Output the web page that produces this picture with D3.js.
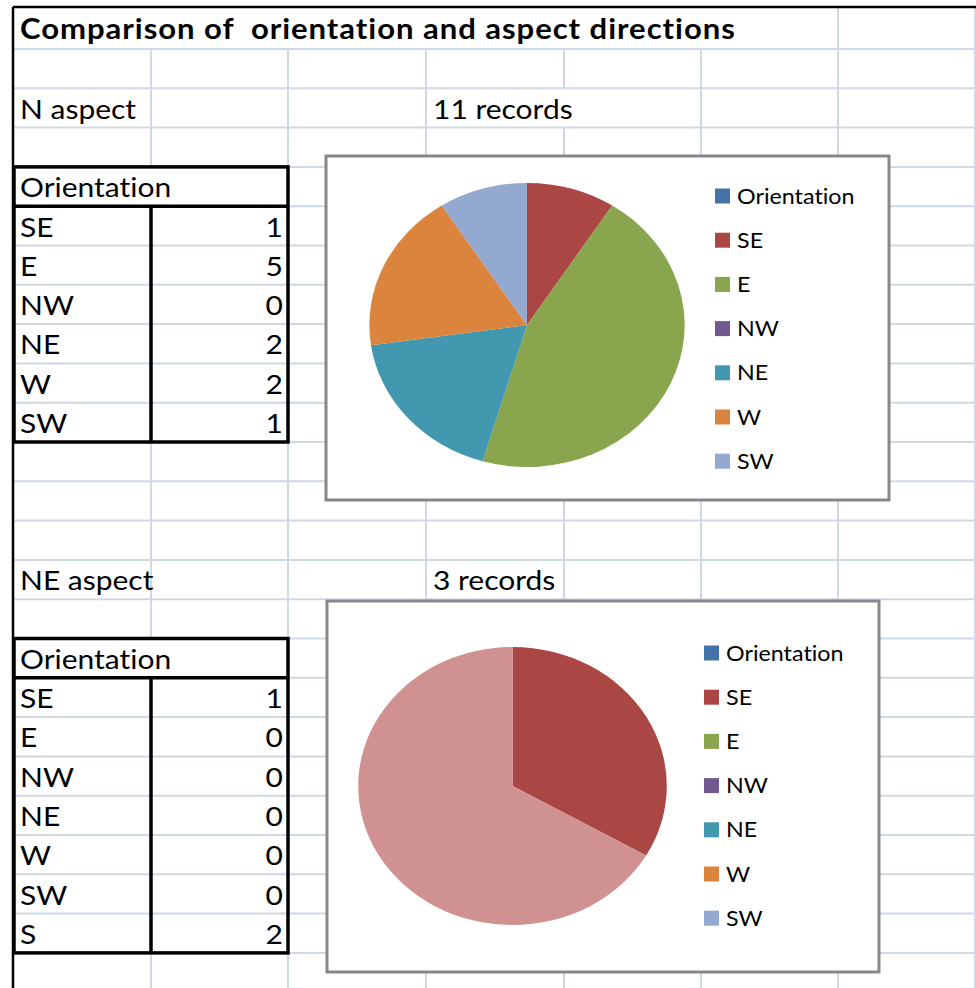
<!DOCTYPE html>
<html>
<head>
<meta charset="utf-8">
<script src="https://cdn.jsdelivr.net/npm/d3@7"></script>
<style>
  html, body { margin: 0; padding: 0; background: #fff; }
  svg { display: block; }
  text { font-family: Lato, "Open Sans", sans-serif; fill: #000; font-variant-ligatures: none; white-space: pre; }
</style>
</head>
<body>
<svg width="976" height="988"></svg>
<script>
// sheet contents
const title = 'Comparison of  orientation and aspect directions';
const aspects = ['N aspect', 'NE aspect'];
const records = ['11 records', '3 records'];
const headerLabel = 'Orientation';

const orient1 = ['SE', 'E', 'NW', 'NE', 'W', 'SW'];
const counts1 = [1, 5, 0, 2, 2, 1];

const orient2 = ['SE', 'E', 'NW', 'NE', 'W', 'SW', 'S'];
const counts2 = [1, 0, 0, 0, 0, 0, 2];

const legendLabels = ['Orientation', 'SE', 'E', 'NW', 'NE', 'W', 'SW'];
const seriesColors = ['#4572A7', '#AA4643', '#89A54E', '#71588F', '#4198AF', '#DB843D', '#93A9CF', '#D09291'];

const svg = d3.select('svg');
const W = 976, H = 988;
const SX = 1.11; // screenshot is stretched horizontally
const gridColor = '#D0D7E5';

const colX = [13, 151, 288, 426, 564, 701, 838, 975];
const rowH = 39.3;
const rowY = (k) => (k < 0 ? 7 : 49 + rowH * k);

// ---------- grid ----------
const grid = svg.append('g');
for (let k = 0; rowY(k) < H; k++) {
  grid.append('line')
    .attr('x1', 13).attr('x2', W)
    .attr('y1', rowY(k)).attr('y2', rowY(k))
    .attr('stroke', gridColor).attr('stroke-width', 2);
}
colX.slice(1).forEach((x) => {
  const y0 = x === 838 || x === 975 ? 7 : 49;
  // "11 records" spills over the line at 564
  const segs = x === 564 ? [[y0, rowY(1)], [rowY(2), H]] : [[y0, H]];
  segs.forEach(([a, b]) => {
    grid.append('line')
      .attr('x1', x).attr('x2', x).attr('y1', a).attr('y2', b)
      .attr('stroke', gridColor).attr('stroke-width', 2);
  });
});

// sheet border
svg.append('line').attr('x1', 13).attr('x2', W).attr('y1', 7).attr('y2', 7)
  .attr('stroke', '#000').attr('stroke-width', 2.5);
svg.append('line').attr('x1', 13).attr('x2', 13).attr('y1', 7).attr('y2', H)
  .attr('stroke', '#000').attr('stroke-width', 2.5);

function label(g, str, x, y, opts = {}) {
  return g.append('text')
    .attr('transform', `translate(${x},${y}) scale(${SX},1)`)
    .attr('text-anchor', opts.anchor || 'start')
    .style('font-size', (opts.size || 27) + 'px')
    .style('font-weight', opts.bold ? 'bold' : 'normal')
    .style('letter-spacing', (opts.spacing || 0) + 'px')
    .text(str);
}

label(svg, title, 20, 39, { size: 28, bold: true, spacing: 0.85 });

// ---------- tables ----------
function table(startRow, labels, values, aspect, rec) {
  const g = svg.append('g');
  label(g, aspect, 20, rowY(startRow - 1) - 9);
  label(g, rec, 433, rowY(startRow - 1) - 9);

  const top = rowY(startRow), head = rowY(startRow + 1);
  const bottom = rowY(startRow + 1 + labels.length);
  g.append('rect').attr('x', 13).attr('y', top).attr('width', 275).attr('height', head - top)
    .attr('fill', '#fff');
  label(g, headerLabel, 20, head - 9);

  labels.forEach((d, i) => {
    const yb = rowY(startRow + 2 + i) - 9;
    label(g, d, 20, yb);
    label(g, values[i], 283, yb, { anchor: 'end' });
  });

  const bw = 3.5;
  g.append('rect').attr('x', 14).attr('y', top).attr('width', 274).attr('height', bottom - top)
    .attr('fill', 'none').attr('stroke', '#000').attr('stroke-width', bw);
  g.append('line').attr('x1', 14).attr('x2', 288).attr('y1', head).attr('y2', head)
    .attr('stroke', '#000').attr('stroke-width', bw);
  g.append('line').attr('x1', 151).attr('x2', 151).attr('y1', head).attr('y2', bottom)
    .attr('stroke', '#000').attr('stroke-width', bw);
}

table(3, orient1, counts1, aspects[0], records[0]);
table(15, orient2, counts2, aspects[1], records[1]);

// ---------- pie charts ----------
const pie = d3.pie().sort(null).value((d) => d);

function chart(box, center, r, values, legendX, legendY) {
  const g = svg.append('g');
  g.append('rect')
    .attr('x', box[0]).attr('y', box[1])
    .attr('width', box[2] - box[0]).attr('height', box[3] - box[1])
    .attr('fill', '#fff').attr('stroke', '#888').attr('stroke-width', 3);

  const arc = d3.arc().innerRadius(0).outerRadius(r);
  g.append('g')
    .attr('transform', `translate(${center[0]},${center[1]}) scale(${SX},1)`)
    .selectAll('path')
    .data(pie(values))
    .join('path')
    .attr('d', arc)
    .attr('fill', (d, i) => seriesColors[i + 1]);

  const lg = g.append('g').attr('transform', `translate(${legendX},${legendY})`);
  const item = lg.selectAll('g').data(legendLabels).join('g')
    .attr('transform', (d, i) => `translate(0,${i * 44.2})`);
  item.append('rect').attr('x', 0).attr('y', -7.5).attr('width', 15).attr('height', 15)
    .attr('fill', (d, i) => seriesColors[i]);
  item.each(function (d) {
    label(d3.select(this), d, 22, 7.5, { size: 21 });
  });
}

chart([326, 156, 889, 500], [527, 325], 142, counts1, 715, 196);
chart([327, 601, 879, 972], [512.5, 786], 139, counts2, 704, 653);
</script>
</body>
</html>
